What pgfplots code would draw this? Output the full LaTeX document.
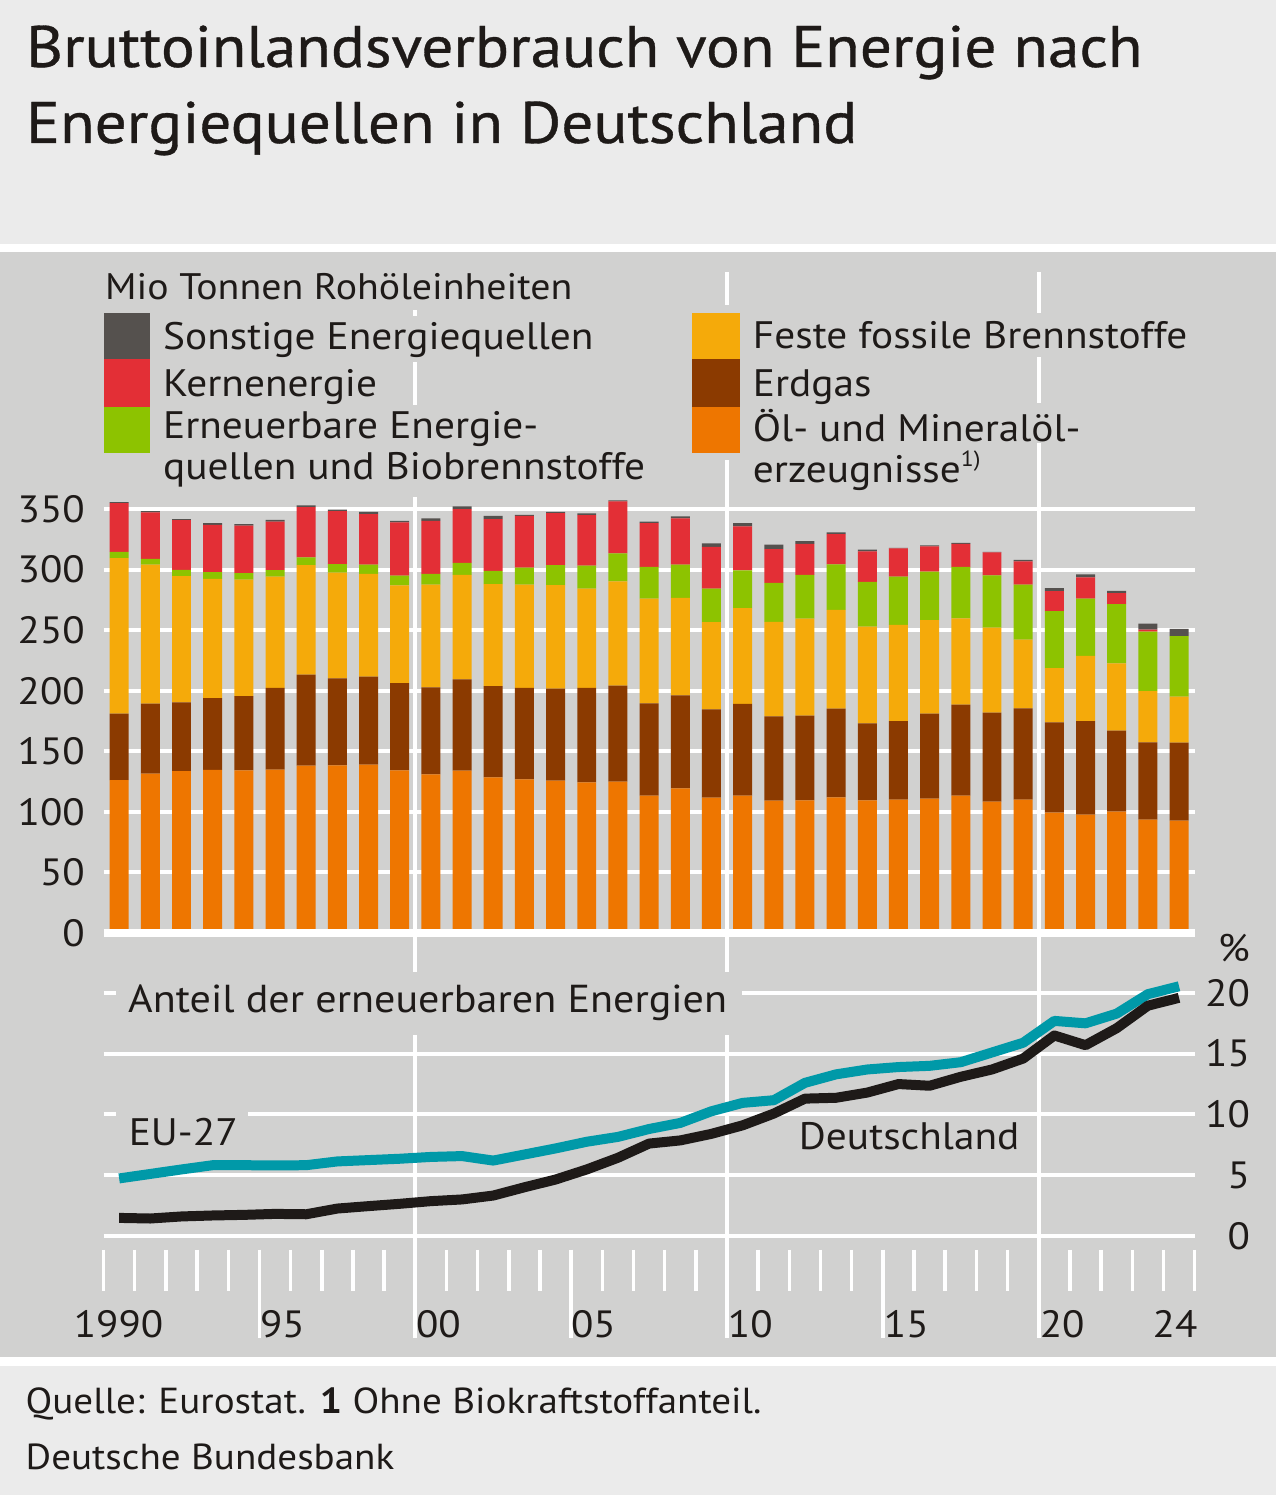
\documentclass[border=0pt]{standalone}
\usepackage{fontspec}
\setmainfont{PT Sans}[FakeStretch=1.08]
\newfontfamily\titlefont{PT Sans}[FakeStretch=1.08,FakeBold=0.6]
\usepackage{pgfplots}
\usepackage{pgfplotstable}
\pgfplotsset{compat=1.18}
\definecolor{titlebg}{HTML}{EBEBEB}
\definecolor{panel}{HTML}{D1D1D0}
\definecolor{txt}{HTML}{1E1A18}
\definecolor{cOth}{HTML}{55514E}
\definecolor{cNuc}{HTML}{E32F36}
\definecolor{cRen}{HTML}{8DC300}
\definecolor{cSol}{HTML}{F5AA0A}
\definecolor{cGas}{HTML}{8B3A00}
\definecolor{cOil}{HTML}{EE7600}
\definecolor{cEU}{HTML}{0099A8}
\definecolor{cDE}{HTML}{1E1A18}
\newcommand\fs[1]{\fontsize{#1}{#1}\selectfont}

\pgfplotstableread{
year oil gas solid ren nuc oth
1990 126.3 54.8 128.5 5.2 40.2 0.8
1991 131.5 57.8 114.8 4.9 38.3 1.1
1992 133.7 56.7 104.3 5.2 41.0 0.9
1993 134.6 59.4 98.5 5.5 39.1 1.4
1994 134.3 61.3 96.1 5.5 39.1 1.3
1995 134.8 67.5 91.9 5.5 39.9 1.6
1996 138.1 75.2 90.5 6.3 41.6 1.4
1997 138.4 71.8 87.3 7.1 43.8 1.1
1998 139.0 72.6 85.0 7.5 41.8 1.9
1999 134.3 72.1 80.6 8.0 44.0 1.4
2000 131.0 71.8 84.8 9.0 43.8 1.9
2001 134.0 75.4 86.4 9.9 44.3 2.2
2002 128.5 75.4 84.2 11.0 42.7 2.7
2003 126.9 75.6 85.1 14.0 42.9 0.8
2004 125.8 75.9 85.6 16.5 42.9 1.1
2005 124.4 77.9 82.0 19.0 41.8 1.3
2006 124.9 79.3 86.1 23.1 43.0 0.8
2007 113.4 76.2 86.4 26.4 36.1 1.1
2008 119.4 76.8 80.6 27.3 38.2 1.7
2009 111.7 72.9 72.1 27.6 34.6 2.8
2010 113.4 75.7 79.2 31.1 36.3 2.8
2011 109.2 69.7 78.1 32.2 27.8 3.6
2012 109.5 69.9 80.1 36.3 25.6 2.2
2013 112.0 73.2 81.7 37.4 25.1 1.4
2014 109.5 63.6 79.8 37.1 25.1 1.4
2015 110.1 64.9 79.5 39.7 23.4 0.5
2016 110.9 70.2 77.3 39.9 20.9 0.8
2017 113.4 75.1 71.3 42.6 19.0 0.8
2018 108.4 73.5 70.2 43.2 19.0 0.5
2019 110.1 75.4 56.7 45.4 19.2 1.4
2020 99.3 74.6 44.9 47.0 16.5 2.5
2021 97.7 77.3 53.9 47.1 17.6 2.5
2022 100.2 66.8 55.6 49.0 9.1 1.9
2023 93.6 63.8 42.4 49.0 1.6 5.0
2024 92.7 64.4 38.0 50.1 0.0 6.0
}\energy

\pgfplotstableread{
year eu de
1990 4.73 1.48
1991 5.10 1.43
1992 5.47 1.60
1993 5.82 1.68
1994 5.82 1.73
1995 5.80 1.81
1996 5.82 1.78
1997 6.13 2.25
1998 6.24 2.45
1999 6.35 2.64
2000 6.50 2.86
2001 6.57 3.00
2002 6.20 3.32
2003 6.70 4.00
2004 7.20 4.64
2005 7.75 5.47
2006 8.15 6.43
2007 8.80 7.60
2008 9.30 7.86
2009 10.26 8.40
2010 10.95 9.10
2011 11.17 10.07
2012 12.60 11.30
2013 13.30 11.37
2014 13.70 11.80
2015 13.90 12.50
2016 14.00 12.36
2017 14.30 13.10
2018 15.10 13.70
2019 15.90 14.60
2020 17.70 16.50
2021 17.50 15.70
2022 18.30 17.10
2023 19.90 18.95
2024 20.55 19.60
}\share

\begin{document}
\begin{tikzpicture}[x=1pt,y=1pt]
% backgrounds
\fill[titlebg] (0,0) rectangle (1276,1495);
\fill[white] (0,{1495-252}) rectangle (1276,{1495-244});
\fill[panel] (0,{1495-1357}) rectangle (1276,{1495-252});
\fill[white] (0,{1495-1366}) rectangle (1276,{1495-1357});
\coordinate (TopAx) at (103.6,561.7);
\coordinate (LowAx) at (103.6,258.7);
% title
\node[anchor=base west,inner sep=0pt,text=txt,font=\titlefont\fs{58.6}] at (26,{1495-67}) {Bruttoinlandsverbrauch von Energie nach};
\node[anchor=base west,inner sep=0pt,text=txt,font=\titlefont\fs{58.6}] at (26,{1495-143}) {Energiequellen in Deutschland};
% top grid
\foreach \v in {50,100,...,350} \draw[white,line width=4pt] (103.6,{561.7+\v*1.2114}) -- (1195,{561.7+\v*1.2114});
% lower grid
\foreach \v in {0,5,...,20} \draw[white,line width=4pt] (103.6,{258.7+\v*12.15}) -- (1195,{258.7+\v*12.15});
% x ticks
\foreach \k in {0,...,35} \draw[white,line width=3.5pt] ({103.6+\k*31.183},{1495-1250}) -- ({103.6+\k*31.183},{1495-1291});
\foreach \k in {5,15,25} \draw[white,line width=3.5pt] ({103.6+\k*31.183},{1495-1250}) -- ({103.6+\k*31.183},{1495-1338});
\foreach \k in {10,20,30} \draw[white,line width=4pt] ({103.6+\k*31.183},{1495-272}) -- ({103.6+\k*31.183},{1495-1338});
% cover boxes
\fill[panel] (100,{1495-310}) rectangle (578,{1495-266});
\fill[panel] (156,{1495-362}) rectangle (602,{1495-316});
\fill[panel] (156,{1495-497}) rectangle (662,{1495-405});
\fill[panel] (685,{1495-460}) rectangle (747,{1495-305});
\fill[panel] (747,{1495-357}) rectangle (1200,{1495-313});
\fill[panel] (747,{1495-443}) rectangle (1090,{1495-403});
\fill[panel] (116,{1495-1035}) rectangle (742,{1495-972});
\fill[panel] (116,{1495-1158}) rectangle (248,{1495-1106});
% legend
\node[anchor=base west,inner sep=0pt,text=txt,font=\fs{36.9}] at (105,{1495-300}) {Mio Tonnen Rohöleinheiten};
\fill[cOth] (103.6,{1495-359.3}) rectangle (150.4,{1495-312.7});
\fill[cNuc] (103.6,{1495-406.7}) rectangle (150.4,{1495-359.3});
\fill[cRen] (103.6,{1495-453.3}) rectangle (150.4,{1495-406.7});
\fill[cSol] (692,{1495-359.3}) rectangle (740,{1495-312.7});
\fill[cGas] (692,{1495-406.7}) rectangle (740,{1495-359.3});
\fill[cOil] (692,{1495-453.3}) rectangle (740,{1495-406.7});
\begin{scope}[every node/.style={anchor=base west,inner sep=0pt,text=txt,font=\fs{38.3}}]
\node at (163,{1495-350}) {Sonstige Energiequellen};
\node at (163,{1495-397}) {Kernenergie};
\node at (163,{1495-439}) {Erneuerbare Energie-};
\node at (163,{1495-480}) {quellen und Biobrennstoffe};
\node at (753,{1495-349}) {Feste fossile Brennstoffe};
\node at (753,{1495-396.7}) {Erdgas};
\node at (753,{1495-442}) {Öl- und Mineralöl-};
\node at (753,{1495-483}) {erzeugnisse\raisebox{0.42em}{\fs{22}1)}};
\node[font=\fs{39}] at (128,{1495-1013}) {Anteil der erneuerbaren Energien};
\node at (128.6,{1495-1146}) {EU-27};
\node at (799,{1495-1150}) {Deutschland};
\node at (1218,{1495-962}) {\%};
% x tick labels
\node[font=\fs{38}] at (0,0) {};
\node[anchor=base,font=\fs{38}] at (118.6,{1495-1338}) {1990};
\node[font=\fs{38}] at (260,{1495-1338}) {95};
\node[font=\fs{38}] at (416,{1495-1338}) {00};
\node[font=\fs{38}] at (571,{1495-1338}) {05};
\node[font=\fs{38}] at (728,{1495-1338}) {10};
\node[font=\fs{38}] at (884,{1495-1338}) {15};
\node[font=\fs{38}] at (1040,{1495-1338}) {20};
\node[anchor=base east,font=\fs{38}] at (1198,{1495-1338}) {24};
% footer
\node[font=\fs{36.2}] at (25.5,{1495-1414}) {Quelle: Eurostat. \textbf{1} Ohne Biokraftstoffanteil.};
\node[font=\fs{36.2}] at (25.5,{1495-1470}) {Deutsche Bundesbank};
\end{scope}
% bars
\begin{axis}[at={(TopAx)},anchor=south west,scale only axis,
  width=1091.4pt,height=436.1pt,xmin=1989.5,xmax=2024.5,ymin=0,ymax=360,
  ybar stacked,bar width=19pt,axis line style={draw=none},major tick length=0pt,
  xtick=\empty,ytick={0,50,...,350},
  /pgf/number format/assume math mode=true,
  yticklabel style={font=\fs{38},text=txt,anchor=east,inner sep=0pt,xshift=-18.6pt},
  clip=false]
\addplot[fill=cOil,draw=none] table[x=year,y=oil]{\energy};
\addplot[fill=cGas,draw=none] table[x=year,y=gas]{\energy};
\addplot[fill=cSol,draw=none] table[x=year,y=solid]{\energy};
\addplot[fill=cRen,draw=none] table[x=year,y=ren]{\energy};
\addplot[fill=cNuc,draw=none] table[x=year,y=nuc]{\energy};
\addplot[fill=cOth,draw=none] table[x=year,y=oth]{\energy};
\end{axis}
\draw[white,line width=8pt] (103.6,561.7) -- (1195,561.7);
% lines
\begin{axis}[at={(LowAx)},anchor=south west,scale only axis,
  width=1091.4pt,height=243pt,xmin=1989.5,xmax=2024.5,ymin=0,ymax=20,
  axis line style={draw=none},major tick length=0pt,
  xtick=\empty,ytick={0,5,10,15,20},yticklabel pos=right,
  /pgf/number format/assume math mode=true,
  yticklabel style={font=\fs{38},text=txt,anchor=east,inner sep=0pt,xshift=55.5pt},
  clip=false]
\addplot[cEU,line width=10pt,line join=round,mark=none] table[x=year,y=eu]{\share};
\addplot[cDE,line width=10pt,line join=round,mark=none] table[x=year,y=de]{\share};
\end{axis}
\end{tikzpicture}
\end{document}
